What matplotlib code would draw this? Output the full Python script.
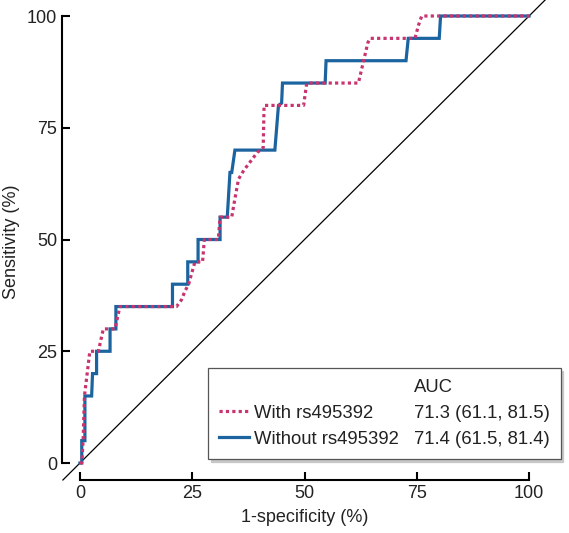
import matplotlib
matplotlib.use("Agg")
import matplotlib.pyplot as plt
from matplotlib.lines import Line2D

# ---- data ----
with_fpr = [0, 0.4, 0.7, 1.0, 1.6, 2.2, 4.1, 5.2, 7.8, 8.9, 21.5, 22.6, 23.4, 24.2, 24.9, 25.6,
            27.3, 27.7, 30.8, 31.2, 33.8, 34.3, 35.3, 36.5, 38.0, 39.5, 40.8, 41.0, 49.8, 50.5,
            62.0, 62.7, 63.4, 64.1, 64.6, 74.6, 75.4, 76.1, 100]
with_tpr = [0, 0, 5, 15, 20, 25, 25, 30, 30, 35, 35, 36.5, 38.5, 40, 42.5, 45,
            45, 50, 50, 55, 55, 58, 63.5, 65.5, 67.5, 69.5, 70.5, 80, 80, 85,
            85, 88, 91, 94, 95, 95, 98, 100, 100]

without_fpr = [0, 0.4, 0.4, 1.1, 1.1, 2.6, 2.8, 3.7, 3.7, 6.7, 6.7, 8.0, 8.0, 20.6, 20.6,
               24.0, 24.0, 26.3, 26.3, 31.2, 31.2, 32.8, 33.4, 33.8, 34.5, 43.4, 44.2, 44.9,
               45.1, 54.6, 54.8, 72.6, 73.1, 80.0, 80.3, 100]
without_tpr = [0, 0, 5, 5, 15, 15, 20, 20, 25, 25, 30, 30, 35, 35, 40,
               40, 45, 45, 50, 50, 55, 55, 65, 65, 70, 70, 80, 80.5,
               85, 85, 90, 90, 95, 95, 100, 100]

ref_line = [-3.8, 110]
ticks = [0, 25, 50, 75, 100]
series_labels = ["With rs495392", "Without rs495392"]
auc_header = "AUC"
auc_texts = ["71.3 (61.1, 81.5)", "71.4 (61.5, 81.4)"]

pink = "#c8346f"
blue = "#1c64a0"
txt = "#222222"

plt.rcParams["font.family"] = ["Liberation Sans", "DejaVu Sans"]

fig = plt.figure(figsize=(5.69, 5.33), dpi=100)
ax = fig.add_axes([0.10896, 0.09944, 0.8524, 0.8957])
ax.set_xlim(-4, 104)
ax.set_ylim(-3.8, 103)

ax.plot(ref_line, ref_line, color="black", lw=0.9, clip_on=False, zorder=1)
l_blue, = ax.plot(without_fpr, without_tpr, color=blue, lw=2.3, zorder=2,
                  solid_joinstyle="miter")
l_pink, = ax.plot(with_fpr, with_tpr, color=pink, lw=2.3, ls=(0, (1, 1)), zorder=3)

for s in ["top", "right"]:
    ax.spines[s].set_visible(False)
for s in ["left", "bottom"]:
    ax.spines[s].set_linewidth(1.5)
    ax.spines[s].set_bounds(0, 100)
ax.set_xticks(ticks)
ax.set_yticks(ticks)
ax.tick_params(direction="in", length=6, width=1.5, labelsize=13, colors="black",
               labelcolor=txt, pad=3.5)
ax.set_xlabel("1-specificity (%)", fontsize=13, color=txt, labelpad=5)
ax.set_ylabel("Sensitivity (%)", fontsize=13, color=txt, labelpad=5)

blank = Line2D([], [], color="none")
handles = [blank, l_pink, l_blue, blank, blank, blank]
labels = [" ", series_labels[0], series_labels[1], auc_header, auc_texts[0], auc_texts[1]]
fs = 13.3
leg = fig.legend(handles, labels, ncol=2, loc="upper left",
                 bbox_to_anchor=(208 / 569, 1 - 368 / 533), bbox_transform=fig.transFigure,
                 borderaxespad=0, fontsize=fs, frameon=True, fancybox=False,
                 shadow={"ox": 2, "oy": -2, "color": "0.78", "alpha": 1.0},
                 handlelength=1.62, handletextpad=0.27, columnspacing=-1.08,
                 labelspacing=0.48, borderpad=0.6, labelcolor=txt)
leg.get_frame().set_edgecolor("#555555")
leg.get_frame().set_linewidth(0.9)

fig.savefig("out.png", dpi=100)
